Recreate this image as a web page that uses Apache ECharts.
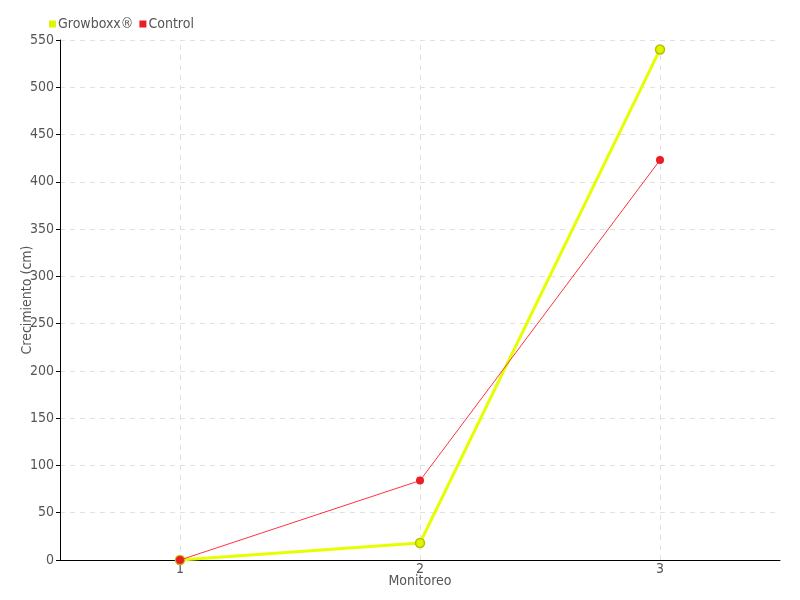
<!DOCTYPE html>
<html>
<head>
<meta charset="utf-8">
<script src="https://cdn.jsdelivr.net/npm/echarts@6/dist/echarts.min.js"></script>
<style>
  html, body { margin: 0; padding: 0; background: #fff; }
  #chart { width: 800px; height: 600px; }
</style>
</head>
<body>
<div id="chart"></div>
<script>
// datos
const categories = ['1', '2', '3']
const growboxx = [0, 18, 540]
const control = [0, 84, 423]

const font = '"DejaVu Sans Condensed", "Liberation Sans Narrow", sans-serif'
const grey = '#555'
const gridLine = { color: '#e0e0e0', type: [5, 5], width: 1 }

const chart = echarts.init(document.getElementById('chart'))
chart.setOption({
  animation: false,
  textStyle: { fontFamily: font },
  legend: {
    left: 44,
    top: 12,
    itemWidth: 7,
    itemHeight: 7,
    itemGap: 6,
    icon: 'rect',
    itemStyle: { borderWidth: 0 },
    textStyle: { color: grey, fontSize: 14, fontFamily: font, padding: [0, 0, 0, -3] },
    data: ['Growboxx®', 'Control']
  },
  grid: { left: 60, right: 20, top: 40, bottom: 40 },
  xAxis: {
    type: 'category',
    data: categories,
    name: 'Monitoreo',
    nameLocation: 'middle',
    nameGap: 14,
    nameMoveOverlap: false,
    nameTextStyle: { color: grey, fontSize: 14 },
    axisLine: { lineStyle: { color: '#000' } },
    axisTick: { alignWithLabel: true, length: 5, lineStyle: { color: '#000' } },
    axisLabel: { color: grey, fontSize: 14, margin: 2 },
    splitLine: { show: false }
  },
  yAxis: {
    type: 'value',
    min: 0,
    max: 550,
    interval: 50,
    name: 'Crecimiento (cm)',
    nameLocation: 'middle',
    nameGap: 26,
    nameMoveOverlap: false,
    nameTextStyle: { color: grey, fontSize: 14 },
    axisLine: { show: true, lineStyle: { color: '#000' } },
    axisTick: { show: true, length: 4, lineStyle: { color: '#000' } },
    axisLabel: { color: grey, fontSize: 14, margin: 6 },
    splitLine: { lineStyle: gridLine }
  },
  series: [
    {
      name: 'Growboxx®',
      type: 'line',
      data: growboxx,
      symbol: 'circle',
      symbolSize: 9,
      lineStyle: { color: '#e6ff00', width: 3 },
      itemStyle: { color: '#e0f500', borderColor: '#b5c400', borderWidth: 1.5 },
      // líneas verticales en cada monitoreo
      markLine: {
        silent: true,
        symbol: 'none',
        label: { show: false },
        lineStyle: gridLine,
        z: 0,
        data: categories.map(c => ({ xAxis: c }))
      },
      z: 2
    },
    {
      name: 'Control',
      type: 'line',
      data: control,
      symbol: 'circle',
      symbolSize: 8,
      lineStyle: { color: '#ff3344', width: 1 },
      itemStyle: { color: '#ee1c25' },
      z: 3
    }
  ]
})
</script>
</body>
</html>
